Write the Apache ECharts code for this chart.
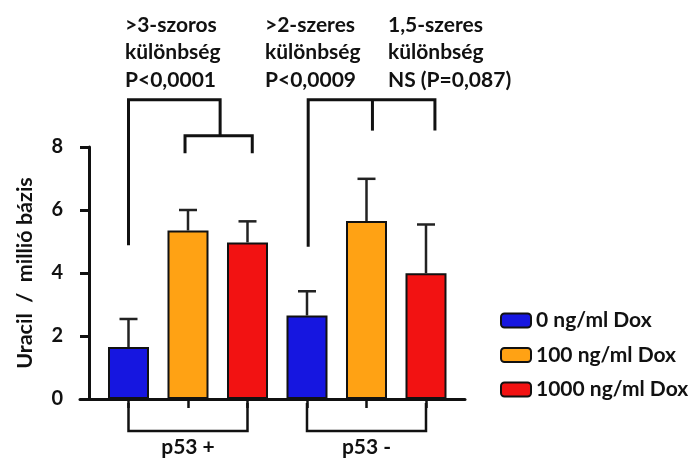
<!DOCTYPE html>
<html><head><meta charset="utf-8">
<script src="https://cdn.jsdelivr.net/npm/echarts@6/dist/echarts.min.js"></script>
<style>html,body{margin:0;padding:0;background:#fff}#c{width:697px;height:459px}</style>
</head><body><div id="c"></div>
<script>
const groups = ['p53 +', 'p53 -'];
const seriesNames = ['0 ng/ml Dox', '100 ng/ml Dox', '1000 ng/ml Dox'];
const means0 = [1.65, 2.65];
const means100 = [5.35, 5.65];
const means1000 = [4.97, 3.99];
const err0 = [0.89, 0.77];
const err100 = [0.65, 1.34];
const err1000 = [0.67, 1.55];
const yTicks = [0, 2, 4, 6, 8];
const yTitle = 'Uracil  /  millió bázis';
const annotations = [
  ['>3-szoros', 'különbség', 'P<0,0001'],
  ['>2-szeres', 'különbség', 'P<0,0009'],
  ['1,5-szeres', 'különbség', 'NS (P=0,087)']
];
// significance brackets as polylines in data coordinates [bar slot, value]
const bracketA = [[1, 4.88], [1, 9.5], [2.54, 9.5], [2.54, 8.36]];
const bracketA2 = [[1.95, 7.8], [1.95, 8.36], [3.08, 8.36], [3.08, 7.8]];
const bracketB = [[4.02, 4.83], [4.02, 9.5], [6.15, 9.5], [6.15, 8.52]];
const bracketB2 = [[5.1, 9.5], [5.1, 8.52]];

const colors = ['#1616e0', '#ffa214', '#f21212'];
const means = [means0, means100, means1000];
const errs = [err0, err100, err1000];
const slot = (g, s) => g * 3 + s + 1;
const FONT = 'Lato';

const series = [];
seriesNames.forEach((name, s) => {
  series.push({
    type: 'bar', name, stack: 'all', barWidth: 41,
    itemStyle: { color: colors[s], borderColor: '#111', borderWidth: 2 },
    data: groups.map((g, gi) => [slot(gi, s), means[s][gi]]),
    z: 2
  });
});
const errData = [];
seriesNames.forEach((n, s) => groups.forEach((g, gi) => errData.push([slot(gi, s), means[s][gi], errs[s][gi]])));
series.push({
  type: 'custom', z: 3, silent: true,
  renderItem(params, api) {
    const x = api.value(0), y = api.value(1), e = api.value(2);
    const p0 = api.coord([x, y]), p1 = api.coord([x, y + e]);
    const st = { stroke: '#222', lineWidth: 2.5 };
    return { type: 'group', children: [
      { type: 'line', shape: { x1: p0[0], y1: p0[1], x2: p1[0], y2: p1[1] }, style: st },
      { type: 'line', shape: { x1: p1[0] - 9, y1: p1[1], x2: p1[0] + 9, y2: p1[1] }, style: st }
    ] };
  },
  data: errData
});
// group brackets under the axis
series.push({
  type: 'custom', z: 3, silent: true, clip: false,
  renderItem(params, api) {
    const g = api.value(0);
    const a = api.coord([slot(g, 0), 0]), b = api.coord([slot(g, 2), 0]);
    return { type: 'polyline', shape: { points: [[a[0], a[1] + 4], [a[0], a[1] + 32], [b[0], a[1] + 32], [b[0], a[1] + 4]] },
      style: { stroke: '#111', lineWidth: 2.5, fill: null } };
  },
  data: groups.map((g, i) => [i])
});
const brackets = [bracketA, bracketA2, bracketB, bracketB2];
series.push({
  type: 'custom', z: 3, silent: true, clip: false,
  renderItem(params, api) {
    const pts = brackets[params.dataIndex].map(p => api.coord(p));
    return { type: 'polyline', shape: { points: pts }, style: { stroke: '#111', lineWidth: 3, fill: null } };
  },
  data: brackets.map((b, i) => [i])
});

const annX = [125, 265, 388];
const graphic = annotations.map((lines, i) => ({
  type: 'text', left: annX[i], top: 11,
  style: { text: lines.join('\n'), font: 'bold 21px ' + FONT, lineHeight: 27.5, fill: '#111' }
}));

const chart = echarts.init(document.getElementById('c'));
chart.setOption({
  animation: false,
  backgroundColor: '#fff',
  grid: { left: 80, right: 232, top: 147, bottom: 60, containLabel: false, outerBoundsMode: 'none' },
  legend: {
    orient: 'vertical', left: 495, top: 305, itemWidth: 30, itemHeight: 14, itemGap: 13.5,
    data: seriesNames,
    textStyle: { fontFamily: FONT, fontWeight: 'bold', fontSize: 21, color: '#111', padding: [0, 0, 0, 0] }
  },
  xAxis: {
    type: 'value', min: 0.1849, max: 6.6555,
    splitLine: { show: false },
    axisLine: { show: true, lineStyle: { color: '#111', width: 3 } },
    axisTick: { show: true, customValues: [1, 2, 3, 4, 5, 6], length: 9, lineStyle: { color: '#111', width: 2.5 } },
    axisLabel: { customValues: [2, 5], formatter: v => groups[Math.round((v - 2) / 3)], margin: 38,
      fontFamily: FONT, fontWeight: 'bold', fontSize: 21, color: '#111' }
  },
  yAxis: {
    type: 'value', min: 0, max: 8, interval: 2, offset: -9,
    name: yTitle, nameLocation: 'middle', nameRotate: 90, nameGap: 53,
    nameTextStyle: { fontFamily: FONT, fontWeight: 'bold', fontSize: 21.5, color: '#111' },
    splitLine: { show: false },
    axisLine: { show: true, onZero: false, lineStyle: { color: '#111', width: 3 } },
    axisTick: { show: true, length: 9, lineStyle: { color: '#111', width: 3 } },
    axisLabel: { margin: 26, fontFamily: FONT, fontWeight: 'bold', fontSize: 20, color: '#111',
      formatter: v => String(yTicks[yTicks.indexOf(v)]) }
  },
  graphic,
  series
});
</script></body></html>
